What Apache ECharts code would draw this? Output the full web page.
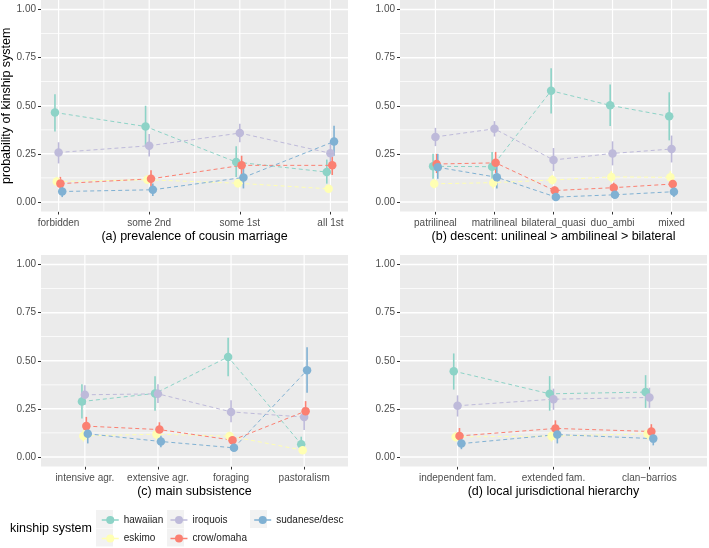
<!DOCTYPE html>
<html>
<head>
<meta charset="utf-8">
<script src="https://cdn.jsdelivr.net/npm/echarts@6/dist/echarts.min.js"></script>
<style>
html, body { margin: 0; padding: 0; background: #fff; }
#main { width: 709px; height: 548px; }
</style>
</head>
<body>
<div id="main"></div>
<script>
// kinship systems, in legend / dodge order
var kinship = ['hawaiian', 'eskimo', 'iroquois', 'crow/omaha', 'sudanese/desc'];
var colors = ['#8DD3C7', '#FFFFB3', '#BEBADA', '#FB8072', '#80B1D3'];

// (a) prevalence of cousin marriage
var catsA = ['forbidden', 'some 2nd', 'some 1st', 'all 1st'];
var meanA = [[0.465, 0.392, 0.207, 0.155], [0.106, 0.115, 0.097, 0.068], [0.257, 0.292, 0.358, 0.253], [0.095, 0.12, 0.19, 0.19], [0.054, 0.063, 0.127, 0.314]];
var lowA = [[0.366, 0.29, 0.13, 0.095], [0.085, 0.095, 0.075, 0.05], [0.20, 0.236, 0.31, 0.20], [0.06, 0.08, 0.14, 0.14], [0.025, 0.03, 0.07, 0.24]];
var highA = [[0.56, 0.50, 0.29, 0.22], [0.13, 0.14, 0.12, 0.09], [0.31, 0.353, 0.406, 0.31], [0.13, 0.165, 0.24, 0.245], [0.08, 0.095, 0.19, 0.396]];

// (b) descent
var catsB = ['patrilineal', 'matrilineal', 'bilateral_quasi', 'duo_ambi', 'mixed'];
var meanB = [[0.185, 0.183, 0.578, 0.502, 0.445], [0.094, 0.1, 0.114, 0.13, 0.128], [0.338, 0.38, 0.218, 0.252, 0.275], [0.197, 0.203, 0.059, 0.074, 0.093], [0.18, 0.128, 0.025, 0.037, 0.053]];
var lowB = [[0.12, 0.12, 0.46, 0.395, 0.32], [0.07, 0.07, 0.09, 0.10, 0.10], [0.29, 0.34, 0.16, 0.19, 0.205], [0.15, 0.15, 0.04, 0.05, 0.07], [0.12, 0.07, 0.01, 0.02, 0.025]];
var highB = [[0.25, 0.26, 0.695, 0.61, 0.57], [0.12, 0.13, 0.14, 0.16, 0.16], [0.385, 0.42, 0.28, 0.315, 0.345], [0.25, 0.26, 0.08, 0.10, 0.12], [0.25, 0.19, 0.04, 0.05, 0.08]];

// (c) main subsistence
var catsC = ['intensive agr.', 'extensive agr.', 'foraging', 'pastoralism'];
var meanC = [[0.288, 0.33, 0.52, 0.066], [0.109, 0.118, 0.108, 0.035], [0.323, 0.328, 0.234, 0.207], [0.16, 0.142, 0.087, 0.238], [0.12, 0.08, 0.047, 0.451]];
var lowC = [[0.2, 0.24, 0.42, 0.035], [0.08, 0.09, 0.085, 0.02], [0.27, 0.28, 0.18, 0.14], [0.12, 0.11, 0.06, 0.19], [0.07, 0.05, 0.03, 0.333]];
var highC = [[0.378, 0.42, 0.62, 0.105], [0.14, 0.14, 0.13, 0.05], [0.373, 0.378, 0.295, 0.26], [0.208, 0.18, 0.11, 0.29], [0.16, 0.11, 0.07, 0.57]];

// (d) local jurisdictional hierarchy
var catsD = ['independent fam.', 'extended fam.', 'clan\u2212barrios'];
var meanD = [[0.446, 0.328, 0.337], [0.104, 0.108, 0.12], [0.266, 0.3, 0.309], [0.109, 0.148, 0.132], [0.069, 0.116, 0.095]];
var lowD = [[0.35, 0.24, 0.255], [0.08, 0.08, 0.09], [0.21, 0.245, 0.255], [0.08, 0.11, 0.1], [0.04, 0.07, 0.06]];
var highD = [[0.538, 0.42, 0.425], [0.13, 0.13, 0.14], [0.32, 0.355, 0.36], [0.15, 0.19, 0.17], [0.1, 0.16, 0.13]];

var yTicks = [0, 0.25, 0.5, 0.75, 1];
var yMinor = [0.125, 0.375, 0.625, 0.875];
var xMinorA = [0.5, 1.5, 2.5];

var font = 'Liberation Sans, Arial, sans-serif';
var panels = [
	{cats: catsA, mean: meanA, low: lowA, high: highA, title: '(a) prevalence of cousin marriage', left: 41, top: 0, xmin: -0.194, xmax: 3.194, minorX: xMinorA},
	{cats: catsB, mean: meanB, low: lowB, high: highB, title: '(b) descent: unilineal > ambilineal > bilateral', left: 400, top: 0},
	{cats: catsC, mean: meanC, low: lowC, high: highC, title: '(c) main subsistence', left: 41, top: 255},
	{cats: catsD, mean: meanD, low: lowD, high: highD, title: '(d) local jurisdictional hierarchy', left: 400, top: 255}
];

var grids = [], xAxes = [], yAxes = [], series = [];

panels.forEach(function(p, pi){
	var idx = p.cats.map(function(c, i){ return i; });
	var xmin = p.xmin !== undefined ? p.xmin : -0.6;
	var xmax = p.xmax !== undefined ? p.xmax : p.cats.length - 1 + 0.6;
	grids.push({left: p.left, top: p.top, width: 307, height: 211.5, show: false, outerBoundsMode: 'none'});
	xAxes.push({
		type: 'value', gridIndex: pi, min: xmin, max: xmax,
		name: p.title, nameLocation: 'middle', nameGap: 19,
		nameTextStyle: {fontSize: 12.5, color: '#000', fontFamily: font},
		axisLine: {show: false, onZero: false},
		axisTick: {show: true, length: 3, customValues: idx, lineStyle: {color: '#333', width: 1}},
		axisLabel: {customValues: idx, margin: 7, fontSize: 10, color: '#4D4D4D', fontFamily: font,
			formatter: function(v){ return p.cats[Math.round(v)]; }},
		splitLine: {show: false}
	});
	yAxes.push({
		type: 'value', gridIndex: pi, min: -0.05, max: 1.05,
		name: pi === 0 ? 'probability of kinship system' : '', nameLocation: 'middle', nameGap: 26,
		nameTextStyle: {fontSize: 12.5, color: '#000', fontFamily: font},
		axisLine: {show: false, onZero: false},
		axisTick: {show: true, length: 3, customValues: yTicks, lineStyle: {color: '#333', width: 1}},
		axisLabel: {customValues: yTicks, margin: 5, fontSize: 10, color: '#4D4D4D', fontFamily: font,
			formatter: function(v){ return v.toFixed(2); }},
		splitLine: {show: false}
	});

	// panel background + grid lines: [x, y, orientation (0 horizontal, 1 vertical), width]
	var lines = yMinor.map(function(v){ return [0, v, 0, 0.8]; })
		.concat((p.minorX || []).map(function(v){ return [v, 0, 1, 0.8]; }))
		.concat(yTicks.map(function(v){ return [0, v, 0, 1.5]; }))
		.concat(idx.map(function(v){ return [v, 0, 1, 1.2]; }));
	series.push({
		type: 'custom', name: 'panel', xAxisIndex: pi, yAxisIndex: pi, z: 1, silent: true,
		data: lines,
		renderItem: function(params, api){
			var cs = params.coordSys;
			var pt = api.coord([api.value(0), api.value(1)]);
			var w = api.value(3);
			var el;
			if (api.value(2) === 0) {
				el = {type: 'rect', z2: 1, shape: {x: cs.x, y: pt[1] - w / 2, width: cs.width, height: w}, style: {fill: '#fff'}};
			} else {
				el = {type: 'rect', z2: 1, shape: {x: pt[0] - w / 2, y: cs.y, width: w, height: cs.height}, style: {fill: '#fff'}};
			}
			if (params.dataIndex === 0) {
				return {type: 'group', children: [
					{type: 'rect', z2: 0, shape: {x: cs.x, y: cs.y, width: cs.width, height: cs.height}, style: {fill: '#EBEBEB'}},
					el
				]};
			}
			return el;
		}
	});

	kinship.forEach(function(k, ki){
		var off = (ki - 2) * 0.02;
		series.push({
			type: 'custom', name: k + ' range', xAxisIndex: pi, yAxisIndex: pi, z: 2,
			data: p.low[ki].map(function(v, i){ return [i + off, v, p.high[ki][i]]; }),
			renderItem: function(params, api){
				var a = api.coord([api.value(0), api.value(1)]);
				var b = api.coord([api.value(0), api.value(2)]);
				return {type: 'line', shape: {x1: a[0], y1: a[1], x2: b[0], y2: b[1]},
					style: {stroke: colors[ki], lineWidth: 1.6}};
			}
		});
		series.push({
			type: 'line', name: k, xAxisIndex: pi, yAxisIndex: pi, z: 3,
			data: p.mean[ki].map(function(v, i){ return [i + off, v]; }),
			symbol: 'circle', symbolSize: 8.5, showSymbol: true,
			itemStyle: {color: colors[ki]},
			lineStyle: {color: colors[ki], width: 1, type: [4, 3]},
			emphasis: {disabled: true}
		});
	});
});

var myChart = echarts.init(document.getElementById('main'));
myChart.setOption({
	animation: false,
	backgroundColor: '#fff',
	grid: grids,
	xAxis: xAxes,
	yAxis: yAxes,
	legend: {
		data: kinship, orient: 'vertical', left: 96, top: 509, height: 40,
		itemWidth: 17, itemHeight: 10, itemGap: 6.5,
		textStyle: {fontSize: 10, lineHeight: 12, color: '#1a1a1a', fontFamily: font},
		lineStyle: {type: 'solid', width: 1.5}
	},
	graphic: [
		{type: 'text', left: 10, top: 522, style: {text: 'kinship system', fontSize: 12.5, fill: '#000', fontFamily: font}},
		{type: 'rect', z: -1, shape: {x: 96, y: 510, width: 17, height: 18}, style: {fill: '#F2F2F2'}},
		{type: 'rect', z: -1, shape: {x: 96, y: 528.5, width: 17, height: 18}, style: {fill: '#F2F2F2'}},
		{type: 'rect', z: -1, shape: {x: 167, y: 510, width: 17, height: 18}, style: {fill: '#F2F2F2'}},
		{type: 'rect', z: -1, shape: {x: 167, y: 528.5, width: 17, height: 18}, style: {fill: '#F2F2F2'}},
		{type: 'rect', z: -1, shape: {x: 250, y: 510, width: 17, height: 18}, style: {fill: '#F2F2F2'}}
	],
	series: series
});
</script>
</body>
</html>
